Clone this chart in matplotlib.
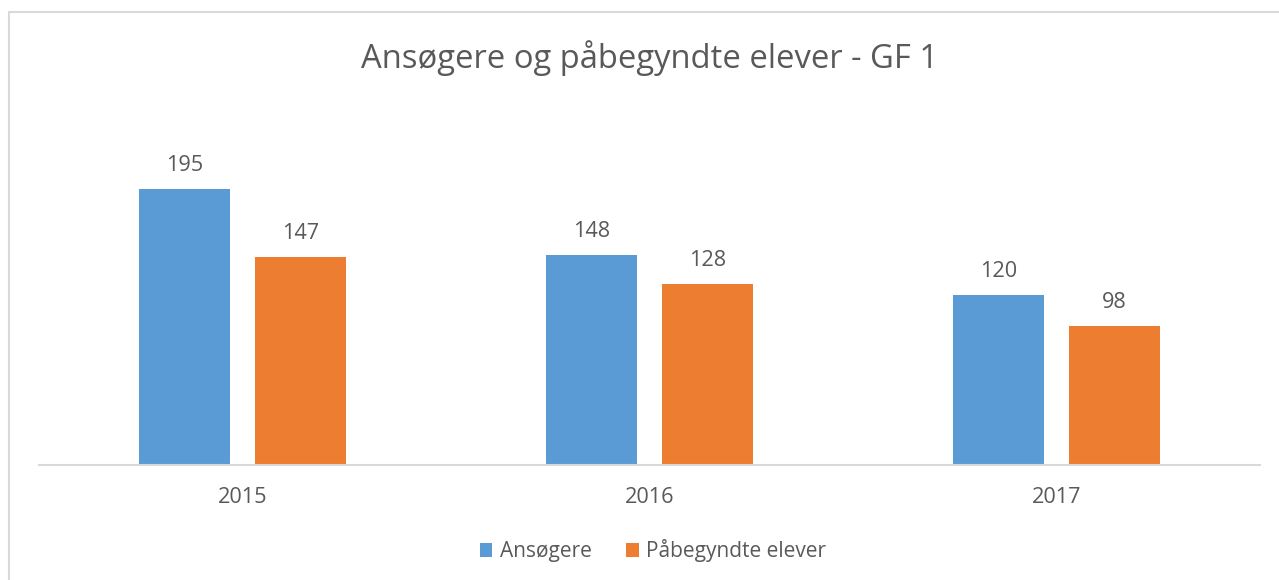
import matplotlib
matplotlib.use("Agg")
import matplotlib.pyplot as plt
import numpy as np
from matplotlib.patches import Rectangle

years = ["2015", "2016", "2017"]
ansogere = [195, 148, 120]
pabegyndte = [147, 128, 98]
series_names = ["Ansøgere", "Påbegyndte elever"]
title = "Ansøgere og påbegyndte elever - GF 1"

plt.rcParams['font.family'] = ['Open Sans', 'DejaVu Sans']
TXT = "#595959"
BLUE = "#5B9BD5"
ORANGE = "#ED7D31"

W, H = 1279, 580
fig = plt.figure(figsize=(W/100, H/100), dpi=100)
fig.patch.set_facecolor("white")

# border (top & left visible)
fig.patches.append(Rectangle((9/W, -0.1), 1.2, 1 - 12/H + 0.1, transform=fig.transFigure,
                             fill=False, edgecolor="#D9D9D9", linewidth=1.5))

ax = fig.add_axes([39/W, (H-465)/H, (1260-39)/W, (465-111)/H])
x = np.arange(len(years))
bw = 0.2236
off = 0.1425
b1 = ax.bar(x - off, ansogere, bw, color=BLUE, label=series_names[0])
b2 = ax.bar(x + off, pabegyndte, bw, color=ORANGE, label=series_names[1])
for bars, vals in ((b1, ansogere), (b2, pabegyndte)):
    for r, v in zip(bars, vals):
        ax.annotate(str(v), (r.get_x() + r.get_width()/2, v), xytext=(0, 9.5),
                    textcoords="offset points", ha="center", va="bottom",
                    fontsize=15.6, color=TXT)

ax.set_xlim(-0.5, 2.5)
ax.set_ylim(0, 250)
ax.set_xticks(x)
ax.set_xticklabels(years, fontsize=15.6, color=TXT)
ax.tick_params(axis="x", length=0, pad=15.5)
ax.set_yticks([])
for s in ("top", "right", "left"):
    ax.spines[s].set_visible(False)
ax.spines["bottom"].set_color("#D9D9D9")
ax.spines["bottom"].set_linewidth(1.5)

fig.text(650/W, 1 - 58/H, title, ha="center", va="center", fontsize=23.6, color=TXT)

leg = fig.legend(handles=[b1, b2], labels=series_names, loc="center",
                 bbox_to_anchor=(653/W, 1 - 551/H), ncol=2, frameon=False,
                 fontsize=15, handlelength=0.62, handleheight=0.62,
                 handletextpad=0.38, columnspacing=1.6, labelcolor=TXT)

fig.savefig("out.png", dpi=100)
